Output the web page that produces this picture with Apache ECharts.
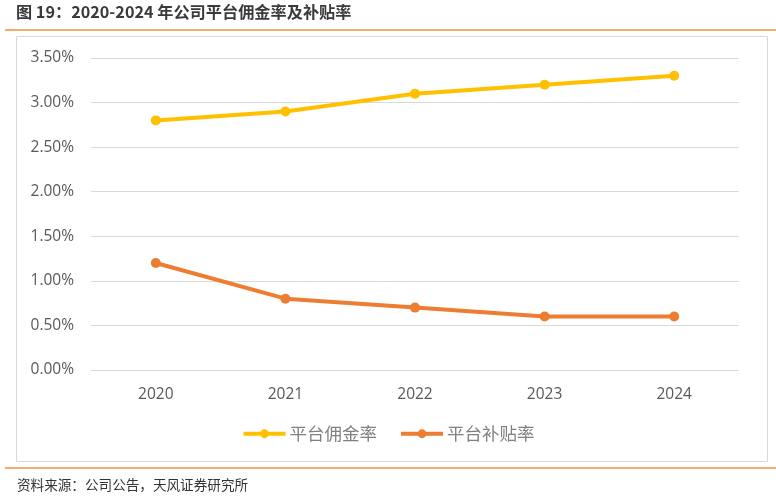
<!DOCTYPE html>
<html><head><meta charset="utf-8">
<script src="https://cdn.jsdelivr.net/npm/echarts@6/dist/echarts.min.js"></script>
<style>html,body{margin:0;padding:0;background:#fff}#c{width:776px;height:498px}</style>
</head><body><div id="c"></div>
<script>
const categories = ['2020','2021','2022','2023','2024'];
const commissionRate = [2.8, 2.9, 3.1, 3.2, 3.3];
const subsidyRate = [1.2, 0.8, 0.7, 0.6, 0.6];
const seriesNames = ['平台佣金率','平台补贴率'];
const titleText = '图 19：2020-2024 年公司平台佣金率及补贴率';
const sourceText = '资料来源：公司公告，天风证券研究所';

const chart = echarts.init(document.getElementById('c'));
const font = '"Noto Sans CJK SC",sans-serif';
const numFont = '"Open Sans","Noto Sans CJK SC",sans-serif';
chart.setOption({
  animation: false,
  textStyle: {fontFamily: font},
  graphic: [
    {type:'text', left: 16, top: 4, style:{text: titleText, font: 'bold 16.2px '+font, fill:'#3a3a3a'}},
    {type:'line', shape:{x1:5,y1:30,x2:776,y2:30}, style:{stroke:'#F0923C', lineWidth:1.5}},
    {type:'rect', shape:{x:16.5,y:36.5,width:751,height:425}, style:{fill:'none', stroke:'#d9d9d9', lineWidth:1}},
    {type:'line', shape:{x1:5,y1:468,x2:776,y2:468}, style:{stroke:'#F0923C', lineWidth:1.5}},
    {type:'text', left: 17, top: 478, style:{text: sourceText, font: '13.6px '+font, fill:'#333'}}
  ],
  grid: {left: 91, right: 37, top: 58, bottom: 128, containLabel: false},
  legend: {
    top: 420, left: 'center', itemWidth: 42, itemHeight: 11, itemGap: 22,
    textStyle: {fontSize: 17.5, color: '#808080', padding: [0,0,0,-1]},
    lineStyle: {width: 4},
    data: seriesNames
  },
  xAxis: {
    type: 'category', data: categories, boundaryGap: true,
    axisLine: {show: false}, axisTick: {show: false},
    axisLabel: {fontSize: 15.5, fontFamily: numFont, color: '#595959', margin: 17}
  },
  yAxis: {
    type: 'value', min: 0, max: 3.5, interval: 0.5,
    axisLine: {show: false}, axisTick: {show: false},
    axisLabel: {fontSize: 15.5, fontFamily: numFont, color: '#595959', margin: 17, formatter: v => v.toFixed(2) + '%'},
    splitLine: {lineStyle: {color: '#d9d9d9', width: 1}}
  },
  series: [
    {name: seriesNames[0], type: 'line', data: commissionRate, color: '#FFC000',
     lineStyle: {width: 4}, symbol: 'circle', symbolSize: 10, itemStyle: {color: '#FFC000'}},
    {name: seriesNames[1], type: 'line', data: subsidyRate, color: '#ED7D31',
     lineStyle: {width: 4}, symbol: 'circle', symbolSize: 10, itemStyle: {color: '#ED7D31'}}
  ]
});
</script></body></html>
